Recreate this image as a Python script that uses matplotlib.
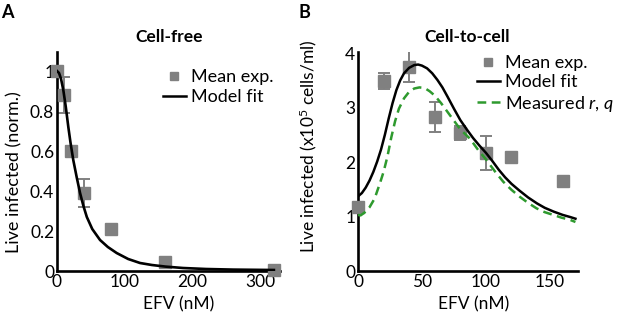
import matplotlib
matplotlib.use("Agg")
import matplotlib.pyplot as plt
from matplotlib.lines import Line2D

plt.rcParams['font.family'] = ['Lato', 'DejaVu Sans']
plt.rcParams['mathtext.fontset'] = 'custom'
plt.rcParams['mathtext.rm'] = 'Lato'
plt.rcParams['mathtext.it'] = 'Lato:italic'

# ---------------- data: panel A (cell-free) ----------------
a_efv = [0, 10, 20, 40, 80, 160, 320]
a_mean = [1.0, 0.88, 0.60, 0.39, 0.21, 0.045, 0.005]
a_err = [0.0, 0.09, 0.02, 0.07, 0.0, 0.0, 0.0]

a_fit_x = [0, 3, 6, 9.3, 13, 16.7, 20, 24, 29, 34, 39, 44, 52, 63.5, 75, 88,
           105, 122.5, 140, 160, 186, 220, 260, 320]
a_fit_y = [1.0, 0.99, 0.96, 0.905, 0.82, 0.72, 0.64, 0.555, 0.47, 0.39, 0.325,
           0.27, 0.21, 0.155, 0.12, 0.09, 0.06, 0.04, 0.03, 0.022, 0.015,
           0.01, 0.007, 0.005]

# ---------------- data: panel B (cell-to-cell) ----------------
b_efv = [0, 20, 40, 60, 80, 100, 120, 160]
b_mean = [1.17, 3.49, 3.75, 2.83, 2.53, 2.17, 2.09, 1.66]
b_err = [0.0, 0.15, 0.28, 0.28, 0.13, 0.31, 0.0, 0.0]

b_fit_x = [0, 3, 6, 9, 12, 15, 18, 21, 24, 27, 30, 33, 36, 40, 44, 47, 50, 54,
           58, 62, 66, 70, 75, 80, 85, 90, 95, 100, 105, 110, 115, 120, 126,
           133, 140, 146, 153, 160, 166, 170]
b_fit_y = [1.37, 1.43, 1.53, 1.66, 1.82, 2.01, 2.23, 2.50, 2.80, 3.08, 3.32,
           3.50, 3.63, 3.73, 3.78, 3.79, 3.77, 3.72, 3.63, 3.51, 3.37, 3.20,
           2.98, 2.77, 2.60, 2.44, 2.30, 2.17, 2.02, 1.86, 1.72, 1.60, 1.48,
           1.35, 1.24, 1.16, 1.09, 1.03, 0.99, 0.96]

b_meas_x = [0, 2, 5, 9, 13, 17, 20, 23, 26, 29, 32, 36, 40, 44, 48, 52, 56,
            60, 65, 70, 75, 80, 87.5, 94, 100, 107, 113.5, 120, 126.6, 133,
            139.6, 146, 152.6, 159, 165.6, 170]
b_meas_y = [1.03, 1.02, 1.07, 1.17, 1.33, 1.60, 1.82, 2.10, 2.45, 2.75, 2.98,
            3.17, 3.29, 3.35, 3.37, 3.36, 3.30, 3.22, 3.08, 2.92, 2.76, 2.60,
            2.43, 2.22, 2.05, 1.83, 1.64, 1.49, 1.36, 1.25, 1.15, 1.08, 1.03,
            0.98, 0.94, 0.90]

a_xticks = [0, 100, 200, 300]
a_yticks = [0, 0.2, 0.4, 0.6, 0.8, 1]
a_yticklabels = ['0', '0.2', '0.4', '0.6', '0.8', '1']
b_xticks = [0, 50, 100, 150]
b_yticks = [0, 1, 2, 3, 4]

GRAY = '#808080'
GREEN = '#2e9a2e'
FS = 12.5

W, H = 617, 315
fig = plt.figure(figsize=(W / 100, H / 100), dpi=100)
axA = fig.add_axes([57 / W, 44 / H, 223 / W, 219 / H])
axB = fig.add_axes([358 / W, 44 / H, 220 / W, 219 / H])


def style(ax):
    for s in ['top', 'right']:
        ax.spines[s].set_visible(False)
    for s in ['left', 'bottom']:
        ax.spines[s].set_linewidth(1.9)
        ax.spines[s].set_color('black')
    ax.tick_params(length=0, labelsize=FS, pad=2)


# Panel A
axA.errorbar(a_efv, a_mean, yerr=a_err, fmt='none', ecolor=GRAY,
             elinewidth=1.4, capsize=4, capthick=1.4, zorder=2)
axA.plot(a_efv, a_mean, 's', color=GRAY, markersize=8, zorder=3,
         clip_on=False)
axA.plot(a_fit_x, a_fit_y, '-', color='black', lw=1.9, zorder=4)
axA.set_xlim(0, 329)
axA.set_ylim(0, 1.095)
axA.set_xticks(a_xticks)
axA.set_yticks(a_yticks)
axA.set_yticklabels(a_yticklabels)
style(axA)
axA.set_xlabel('EFV (nM)', fontsize=FS)
axA.set_ylabel('Live infected (norm.)', fontsize=13)
axA.xaxis.set_label_coords(0.547, -0.115)
axA.yaxis.set_label_coords(-0.155, 0.452)

# Panel B
axB.errorbar(b_efv, b_mean, yerr=b_err, fmt='none', ecolor=GRAY,
             elinewidth=1.4, capsize=4, capthick=1.4, zorder=2)
axB.plot(b_efv, b_mean, 's', color=GRAY, markersize=8, zorder=3,
         clip_on=False)
axB.plot(b_fit_x, b_fit_y, '-', color='black', lw=1.8, zorder=4)
axB.plot(b_meas_x, b_meas_y, '--', color=GREEN, lw=1.8, dashes=(3.5, 2.2),
         zorder=5)
axB.set_xlim(0, 172)
axB.set_ylim(0, 4.02)
axB.set_xticks(b_xticks)
axB.set_yticks(b_yticks)
style(axB)
axB.set_xlabel('EFV (nM)', fontsize=FS)
axB.set_ylabel('Live infected (x10$^5$ cells/ml)', fontsize=FS)
axB.xaxis.set_label_coords(0.527, -0.115)
axB.yaxis.set_label_coords(-0.178, 0.571)

# Legends
hA = [Line2D([], [], ls='none', marker='s', color=GRAY, markersize=6),
      Line2D([], [], color='black', lw=1.8)]
axA.legend(hA, ['Mean exp.', 'Model fit'], loc='upper left',
           bbox_to_anchor=(163 / W, 1 - 69 / H), bbox_transform=fig.transFigure,
           frameon=False, fontsize=13, handlelength=1.25, handletextpad=0.3,
           labelspacing=0.22, borderpad=0, borderaxespad=0)
hB = [Line2D([], [], ls='none', marker='s', color=GRAY, markersize=6),
      Line2D([], [], color='black', lw=1.8),
      Line2D([], [], color=GREEN, lw=1.8, ls='--', dashes=(3.5, 2.2))]
axB.legend(hB, ['Mean exp.', 'Model fit', 'Measured $r$, $q$'], loc='upper left',
           bbox_to_anchor=(477 / W, 1 - 55 / H), bbox_transform=fig.transFigure,
           frameon=False, fontsize=13, handlelength=1.25, handletextpad=0.3,
           labelspacing=0.18, borderpad=0, borderaxespad=0)

# Titles and panel letters
fig.text(169 / W, 1 - 37 / H, 'Cell-free', ha='center', va='center',
         fontsize=12.5, fontweight='bold')
fig.text(467 / W, 1 - 37 / H, 'Cell-to-cell', ha='center', va='center',
         fontsize=12.5, fontweight='bold')
fig.text(1 / W, 1 - 12 / H, 'A', ha='left', va='center', fontsize=13,
         fontweight='bold')
fig.text(299 / W, 1 - 12 / H, 'B', ha='left', va='center', fontsize=13,
         fontweight='bold')

fig.savefig('out.png', dpi=100)
